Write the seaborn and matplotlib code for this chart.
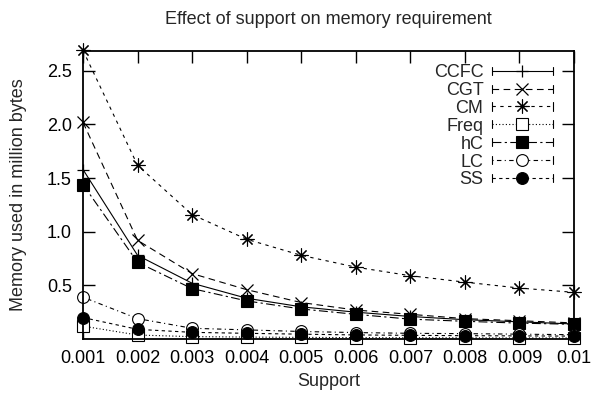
import matplotlib
matplotlib.use("Agg")
import matplotlib.pyplot as plt
import seaborn as sns
import pandas as pd
from matplotlib.legend_handler import HandlerLine2D
from matplotlib.lines import Line2D

support = [0.001, 0.002, 0.003, 0.004, 0.005, 0.006, 0.007, 0.008, 0.009, 0.01]
support_labels = ["0.001", "0.002", "0.003", "0.004", "0.005", "0.006", "0.007", "0.008", "0.009", "0.01"]

ccfc = [1.58, 0.78, 0.52, 0.38, 0.30, 0.25, 0.21, 0.18, 0.16, 0.14]
cgt = [2.02, 0.92, 0.61, 0.46, 0.34, 0.27, 0.23, 0.19, 0.17, 0.15]
cm = [2.69, 1.62, 1.16, 0.93, 0.78, 0.67, 0.59, 0.53, 0.475, 0.435]
freq = [0.12, 0.037, 0.022, 0.018, 0.015, 0.013, 0.012, 0.011, 0.010, 0.010]
hc = [1.44, 0.715, 0.47, 0.355, 0.28, 0.23, 0.185, 0.165, 0.148, 0.137]
lc = [0.39, 0.19, 0.10, 0.085, 0.07, 0.06, 0.053, 0.05, 0.045, 0.04]
ss = [0.20, 0.09, 0.062, 0.053, 0.045, 0.038, 0.034, 0.031, 0.029, 0.027]

series_names = ["CCFC", "CGT", "CM", "Freq", "hC", "LC", "SS"]
series_values = [ccfc, cgt, cm, freq, hc, lc, ss]

rows = []
for name, vals in zip(series_names, series_values):
    for s, v in zip(support, vals):
        rows.append({"Support": s, "Memory": v, "Algorithm": name})
df = pd.DataFrame(rows)

sns.set_theme(style="ticks")
plt.rcParams["font.family"] = ["Liberation Sans", "DejaVu Sans"]

styles = {
    "CCFC": dict(ls="-", marker="+", mfc="black", ms=9, mew=0.9),
    "CGT": dict(ls=(0, (6, 4)), marker="x", mfc="black", ms=8, mew=0.9),
    "CM": dict(ls=(0, (3, 4)), marker=(8, 2, 0), mfc="black", ms=10, mew=0.8),
    "Freq": dict(ls=(0, (1, 2)), marker="s", mfc="white", ms=8, mew=0.8),
    "hC": dict(ls=(0, (8, 3, 2, 3)), marker="s", mfc="black", ms=9, mew=0.8),
    "LC": dict(ls=(0, (1, 3, 4, 3)), marker="o", mfc="white", ms=8.5, mew=0.8),
    "SS": dict(ls=(0, (3, 3)), marker="o", mfc="black", ms=8.5, mew=0.8),
}


class CapHandler(HandlerLine2D):
    def create_artists(self, legend, orig_handle, xdescent, ydescent,
                       width, height, fontsize, trans):
        artists = super().create_artists(legend, orig_handle, xdescent, ydescent,
                                         width, height, fontsize, trans)
        x0 = -xdescent
        x1 = -xdescent + width
        ym = height / 2.0 - ydescent
        h = height * 0.32
        caps = []
        for xx in (x0, x1):
            c = Line2D([xx, xx], [ym - h, ym + h], color="black", lw=0.8,
                       transform=trans)
            caps.append(c)
        return list(artists) + caps


fig = plt.figure(figsize=(5.94, 3.94), dpi=100)
ax = fig.add_axes([83 / 594, 55 / 394, (574 - 83) / 594, (339 - 51) / 394])

for name in series_names:
    st = styles[name]
    sns.lineplot(data=df[df["Algorithm"] == name], x="Support", y="Memory",
                 ax=ax, color="black", lw=0.8, mec="black", label=name,
                 clip_on=False, **st)

ax.set_xlim(0.001, 0.01)
ax.set_ylim(0, 2.685)
ax.set_xticks(support)
ax.set_xticklabels(support_labels)
ax.set_yticks([0.5, 1.0, 1.5, 2.0, 2.5])
ax.set_yticklabels(["0.5", "1.0", "1.5", "2.0", "2.5"])
ax.tick_params(direction="in", length=8.5, width=1.0, top=True, right=True,
               labelsize=13, pad=8, colors="black")
for sp in ax.spines.values():
    sp.set_visible(True)
    sp.set_linewidth(1.3)
    sp.set_color("black")

ax.set_xlabel("Support", fontsize=13)
ax.xaxis.set_label_coords(0.5, -(373 - 339) / 288)
ax.set_ylabel("Memory used in million bytes", fontsize=13)
ax.yaxis.set_label_coords((27 - 83) / 491, 0.5)
fig.text(0.5 * (83 + 574) / 594, 1 - 19 / 394, "Effect of support on memory requirement",
         ha="center", va="center", fontsize=13)

handles, labels = ax.get_legend_handles_labels()
leg = ax.legend(handles, labels, loc="upper right",
                bbox_to_anchor=((553 - 83) / (574 - 83), (339 - 64) / 288),
                frameon=False, markerfirst=False, alignment="right", fontsize=13,
                handlelength=3.4, labelspacing=0.05, borderaxespad=0, borderpad=0,
                handletextpad=0.45, numpoints=1,
                handler_map={Line2D: CapHandler(numpoints=1)})

fig.savefig("out.png", dpi=100)
